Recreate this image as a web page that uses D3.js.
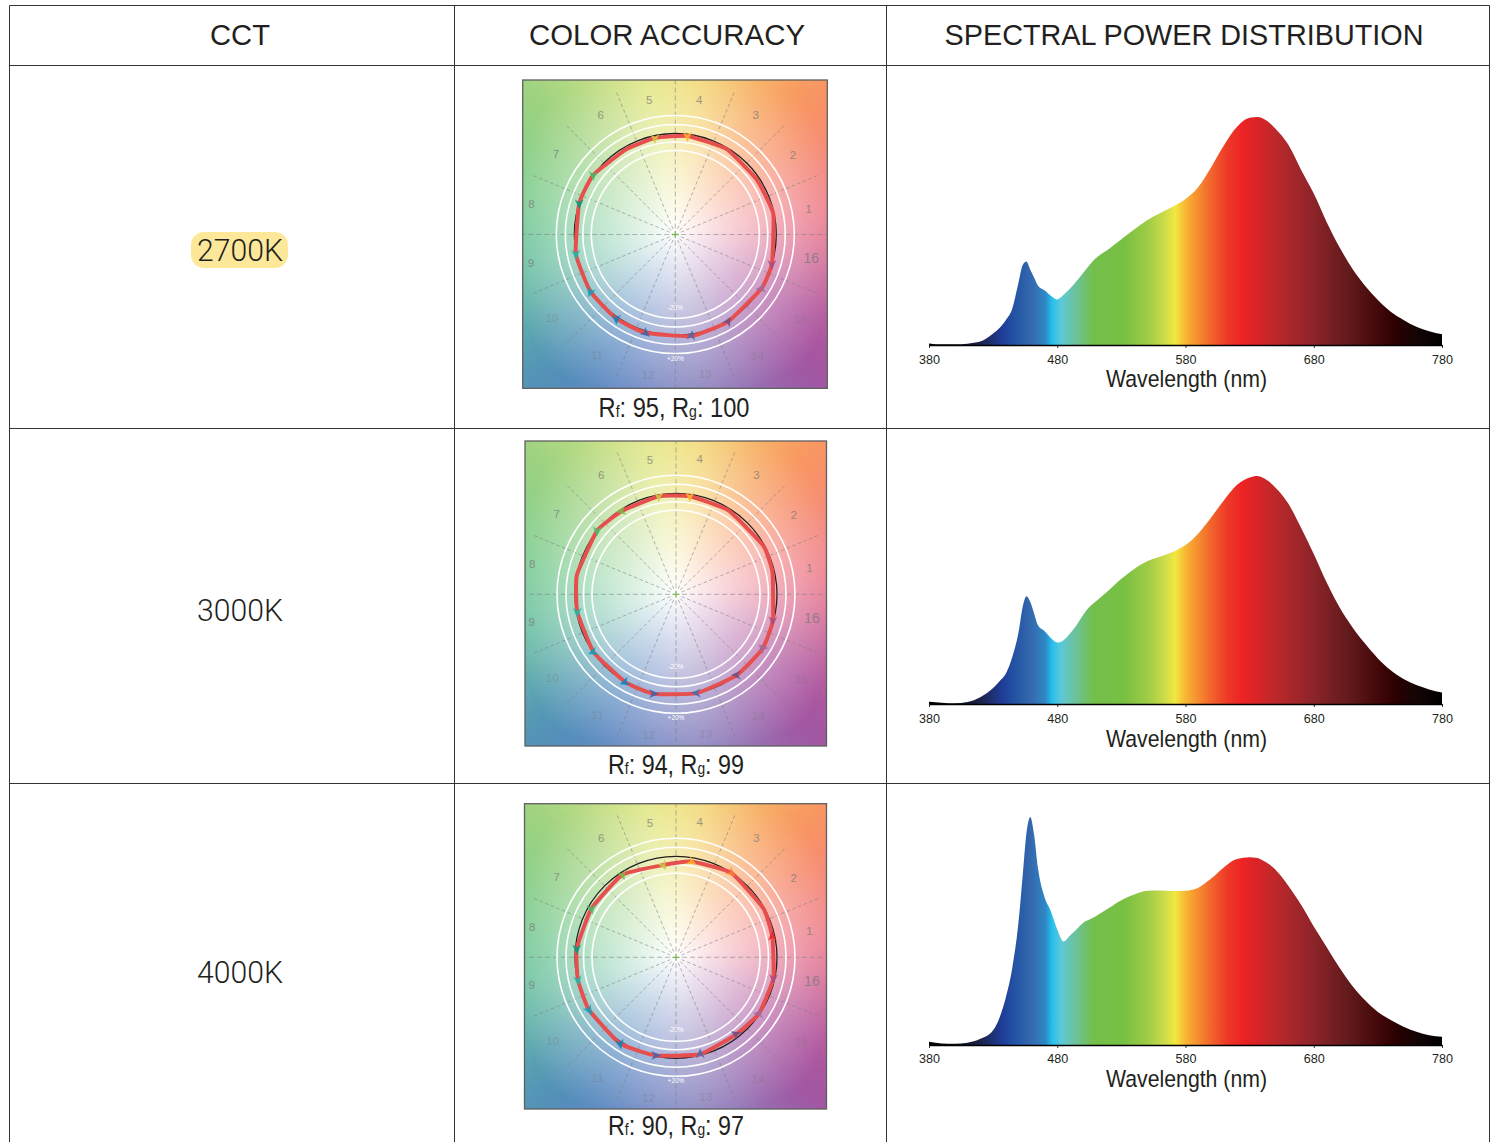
<!DOCTYPE html>
<html>
<head>
<meta charset="utf-8">
<script src="https://cdn.jsdelivr.net/npm/d3@7"></script>
<style>
  html, body { margin: 0; padding: 0; background: #fff; overflow: hidden; }
  svg { display: block; }
  text { font-family: "Liberation Sans", Arial, sans-serif; fill: #231f20; }
</style>
</head>
<body>
<script>
// ---- data ----
const headers = ["CCT", "COLOR ACCURACY", "SPECTRAL POWER DISTRIBUTION"];
const cctLabels = ["2700K", "3000K", "4000K"];
const rfValues = [95, 94, 90];
const rgValues = [100, 99, 97];

const wavelengthTicks = [380, 480, 580, 680, 780];
const wavelengths = [380, 390, 400, 410, 420, 430, 435, 440, 445, 450, 453, 456, 459, 462, 465, 470, 475, 480, 485, 490, 495, 500, 505, 510,
  520, 530, 540, 550, 560, 570, 580, 590, 600, 610, 620, 630, 636, 640,
  650, 660, 670, 680, 690, 700, 710, 720, 730, 740, 750, 760, 770, 780];

const spd2700 = [.7, .3, .3, .6, 1.5, 5, 7.5, 11, 16, 28, 35, 36.6, 33, 29.5, 26, 24, 21.6, 20, 22, 24.8, 28, 31.5, 35, 38,
  42, 46.4, 50.7, 54.7, 57.8, 60.6, 64, 69.3, 78, 87.6, 95.6, 99.7, 100, 99.5,
  95, 88, 77, 66.4, 54, 43, 33.6, 26, 19.7, 14.6, 11, 8, 6, 4.7];
const spd3000 = [1, .6, .3, .9, 3, 7, 10, 13.4, 20.7, 32, 42.5, 47.3, 44.7, 39.6, 34.5, 32, 29, 27, 28, 30.9, 34.5, 38.9, 42.5, 45,
  49.8, 54.9, 59.2, 62.6, 64.6, 66.7, 69.7, 74.8, 81.8, 89.4, 96, 99.3, 100, 99.3,
  95, 88, 77.4, 65.8, 53.4, 42.5, 33.8, 26.5, 20, 14.8, 11, 8.3, 6.4, 5];
const spd4000 = [1.4, .7, .5, 1, 2.7, 6.5, 12, 21, 34, 55, 74, 93, 100, 92, 77.5, 65, 58.7, 50.7, 45.4, 48, 50.7, 53.5, 55, 56.5,
  60, 63.5, 66, 67.7, 67.8, 67.5, 67.7, 69, 73, 78, 81.6, 82.3, 82, 81,
  77, 70, 61.6, 52, 43, 34, 26, 19.6, 14.5, 11, 8, 5.8, 4.3, 3.6];
const spdSeries = [spd2700, spd3000, spd4000];

const spectrumNm = [380, 400, 420, 437, 448, 460, 471, 476, 483, 494, 508, 532, 551, 565, 572, 581, 598, 612, 625, 652, 680, 707, 729, 744, 759, 780];
const spectrumColors = ["#000000", "#0d0d14", "#1c2348", "#1f3c98", "#2456a4", "#3569ae", "#2d8ac7", "#26c0ee", "#5dc8d8", "#6cc29b", "#73bf4b",
  "#78c043", "#a0cc46", "#d2dd4a", "#f2e83f", "#f8b133", "#f36c2c", "#ee3a28", "#ed2224", "#b9282b", "#8c2429", "#621a1c", "#45090b", "#2b0000", "#150505", "#000000"];

// hue bins of the colour vector graphic, 1 to 16
const binNumbers = d3.range(1, 17);
const binColors = ["#e62828", "#e74b4b", "#fb812e", "#ffb529", "#cbca46", "#7eb94c", "#41c06d", "#009c7c",
  "#16bcb0", "#00a4bf", "#0085c3", "#3b62aa", "#4568ae", "#6a4e85", "#9d69a1", "#a74f81"];
const ringLevels = [-20, -10, 10, 20];

const vectorAngle2700 = [12, 34, 59, 83, 102, 120, 144, 162, 191, 214, 235, 253, 279, 301, 328, 343];
const vectorDelta2700 = [-1, -3.2, -1.6, -2, -2.8, -3.2, .4, 0, .4, 1.5, 2, 2, 2, 1, .8, 0];
const vectorAngle3000 = [13, 29, 58, 82, 100, 123, 141, 169, 190, 215, 240, 257, 282, 307, 328, 345];
const vectorDelta3000 = [-2.4, -1.2, -2.4, -2.4, -1.6, -2, .4, 0, -.8, -.4, .4, 1.2, 0, .2, 1.5, -.8];
const vectorAngle4000 = [12, 29, 57, 81, 98, 123, 150, 175, 193, 211, 237, 258, 284, 308, 326, 348];
const vectorDelta4000 = [-3, -1, 0, -4.8, -9.2, -3, -4, -1.6, -.4, .8, 2, -.8, -1.2, -3.8, -.8, -1.6];
const vectorAngles = [vectorAngle2700, vectorAngle3000, vectorAngle4000];
const vectorDeltas = [vectorDelta2700, vectorDelta3000, vectorDelta4000];

// direction each visible chevron points to, degrees counterclockwise from east (null = hidden under the outline)
const arrowDir2700 = [null, null, null, 270, 270, null, 270, 270, 270, 250, 270, 320, 80, 60, 190, 270];
const arrowDir3000 = [null, null, null, 270, 270, 190, 270, null, 270, 200, 200, 0, 180, 180, 135, 270];
const arrowDir4000 = [90, null, 320, 330, 300, 290, 280, 270, 280, 300, 280, 0, 90, 150, 180, 270];
const arrowDirs = [arrowDir2700, arrowDir3000, arrowDir4000];

// colours at the edge of the square background, by angle (counterclockwise from east)
const bgAngles = [0, 22.5, 45, 67.5, 90, 112.5, 135, 157.5, 180, 202.5, 225, 247.5, 270, 292.5, 315, 337.5, 360];
const bgColors = ["#f08ca0", "#f38f8c", "#fa8c52", "#f6c878", "#f3ee92", "#d4e490", "#96cf78", "#8fd295", "#84cfa8",
  "#72bfae", "#4689b4", "#6a8fc9", "#9a9bcc", "#9682bd", "#9f479b", "#c06aa5", "#f08ca0"];

// ---- layout ----
const W = 1495, H = 1142;
const tableX = [9.5, 454.5, 886.5, 1489.5];
const tableY = [5.5, 65.5, 428.5, 783.5];
const headerCx = [240, 667, 1184];
const headerWidth = [60, 276, 479];
const rows = [
  { cctY: 261, sq: [522.7, 80, 304.6, 308.3], c: [675.3, 234.5], rfCx: 674, rfY: 417, rfW: 151, base: 345, tickY: 364, wlY: 387 },
  { cctY: 621, sq: [525, 441, 301.5, 305], c: [676, 594.3], rfCx: 676, rfY: 774, rfW: 136, base: 704, tickY: 723, wlY: 747 },
  { cctY: 983, sq: [524.5, 803.7, 302, 305.3], c: [676, 957.3], rfCx: 676, rfY: 1135, rfW: 136, base: 1045, tickY: 1063, wlY: 1087 }
];
// where the bin numbers sit around the centre: angle, radius
const binLabelAngle = [11, 34, 56, 80, 101, 122, 146, 168, 191, 214, 237, 259, 282, 304, 326, 350];
const binLabelRadius = [136, 142, 144, 137, 137, 141, 144, 147, 147, 149, 144, 143, 143, 147, 151, 138];

const svg = d3.select("body").append("svg").attr("width", W).attr("height", H);
const defs = svg.append("defs");

// spectrum gradient shared by the three areas
const x = d3.scaleLinear().domain([380, 780]).range([929, 1442]);
const grad = defs.append("linearGradient").attr("id", "spectrum")
  .attr("gradientUnits", "userSpaceOnUse")
  .attr("x1", x(380)).attr("x2", x(780)).attr("y1", 0).attr("y2", 0);
grad.selectAll("stop").data(spectrumNm).enter().append("stop")
  .attr("offset", d => (d - 380) / 400)
  .attr("stop-color", (d, i) => spectrumColors[i]);

// background of the colour vector graphic, painted once on a small canvas
const bgHue = d3.scaleLinear().domain(bgAngles).range(bgColors).interpolate(d3.interpolateRgb);
const hueTable = d3.range(360).map(deg => {
  // a little smoothing around the circle so the corners do not crease
  let r = 0, g = 0, b = 0, n = 0;
  for (let a = -14; a <= 14; a += 4) {
    const c = d3.rgb(bgHue((deg + a + 360) % 360));
    r += c.r; g += c.g; b += c.b; n++;
  }
  return [r / n, g / n, b / n];
});
const cv = document.createElement("canvas");
cv.width = cv.height = 150;
const ctx = cv.getContext("2d");
const img = ctx.createImageData(150, 150);
for (let j = 0; j < 150; j++) {
  for (let i = 0; i < 150; i++) {
    const dx = (i - 74.5) / 75, dy = (74.5 - j) / 75;
    let deg = Math.atan2(dy, dx) * 180 / Math.PI;
    if (deg < 0) deg += 360;
    const norm = Math.pow(Math.pow(Math.abs(dx), 4) + Math.pow(Math.abs(dy), 4), .25);
    const t = Math.pow(Math.min(1, norm), .95);
    const c = hueTable[Math.floor(deg) % 360];
    const k = (j * 150 + i) * 4;
    img.data[k] = 255 + (c[0] - 255) * t;
    img.data[k + 1] = 255 + (c[1] - 255) * t;
    img.data[k + 2] = 255 + (c[2] - 255) * t;
    img.data[k + 3] = 255;
  }
}
ctx.putImageData(img, 0, 0);
const bgUrl = cv.toDataURL();

// table grid
svg.selectAll(".vline").data(tableX).enter().append("line")
  .attr("x1", d => d).attr("x2", d => d).attr("y1", tableY[0]).attr("y2", H)
  .attr("stroke", "#333").attr("stroke-width", 1);
svg.selectAll(".hline").data(tableY).enter().append("line")
  .attr("x1", tableX[0]).attr("x2", tableX[3]).attr("y1", d => d).attr("y2", d => d)
  .attr("stroke", "#333").attr("stroke-width", 1);

svg.selectAll(".header").data(headers).enter().append("text")
  .attr("x", (d, i) => headerCx[i]).attr("y", 45)
  .attr("text-anchor", "middle").attr("font-size", 30)
  .attr("textLength", (d, i) => headerWidth[i]).attr("lengthAdjust", "spacingAndGlyphs")
  .text(d => d);

// highlight behind the first CCT
svg.append("rect").attr("x", 191).attr("y", 232).attr("width", 97).attr("height", 36)
  .attr("rx", 13).attr("fill", "#fde89a");

svg.selectAll(".cct").data(cctLabels).enter().append("text")
  .attr("x", 240).attr("y", (d, i) => rows[i].cctY)
  .attr("text-anchor", "middle").attr("font-size", 31)
  .style("font-family", "Roboto, 'Liberation Sans'").style("font-weight", 300)
  .attr("textLength", 86).attr("lengthAdjust", "spacingAndGlyphs")
  .text(d => d);

rows.forEach((row, idx) => {
  drawVector(row, idx);
  drawSpectrum(row, idx);
});

function drawVector(row, idx) {
  const [sx, sy, sw, sh] = row.sq;
  const [cx, cy] = row.c;
  const clipId = "sq" + idx;
  defs.append("clipPath").attr("id", clipId).append("rect")
    .attr("x", sx).attr("y", sy).attr("width", sw).attr("height", sh);

  svg.append("image").attr("href", bgUrl)
    .attr("x", sx).attr("y", sy).attr("width", sw).attr("height", sh)
    .attr("preserveAspectRatio", "none");

  const g = svg.append("g").attr("clip-path", `url(#${clipId})`);
  const plot = g.append("g").attr("transform", `translate(${cx},${cy})`);
  const radius = d3.scaleLinear().domain([-20, 0, 20]).range([84, 101, 119]);
  const pol = (deg, r) => [r * Math.cos(deg * Math.PI / 180), -r * Math.sin(deg * Math.PI / 180)];

  // dashed spokes between the bins
  plot.selectAll(".spoke").data(d3.range(16)).enter().append("line")
    .attr("x1", d => pol(d * 22.5, 6)[0]).attr("y1", d => pol(d * 22.5, 6)[1])
    .attr("x2", d => pol(d * 22.5, 155)[0]).attr("y2", d => pol(d * 22.5, 155)[1])
    .attr("stroke", "#7d7d7d")
    .attr("stroke-width", .8)
    .attr("stroke-dasharray", d => d % 4 === 0 ? "5 3" : "3.5 2.5")
    .attr("opacity", .7);

  // bin numbers
  plot.selectAll(".bin").data(binNumbers).enter().append("text")
    .attr("x", (d, i) => pol(binLabelAngle[i], binLabelRadius[i])[0])
    .attr("y", (d, i) => pol(binLabelAngle[i], binLabelRadius[i])[1])
    .attr("dy", "0.35em")
    .attr("text-anchor", "middle")
    .attr("font-size", d => d === 16 ? 14 : 11.5)
    .style("fill", "#777")
    .attr("opacity", d => d >= 10 && d <= 15 ? .35 : .7)
    .text(d => d);

  plot.selectAll(".ring").data(ringLevels).enter().append("circle")
    .attr("r", d => radius(d)).attr("fill", "none")
    .attr("stroke", "#fff").attr("stroke-width", 1.6);

  plot.append("text").attr("x", 0).attr("y", 75).attr("text-anchor", "middle")
    .attr("font-size", 6.5).style("fill", "#fff").text("-20%");
  plot.append("text").attr("x", 0).attr("y", 126).attr("text-anchor", "middle")
    .attr("font-size", 6.5).style("fill", "#fff").text("+20%");

  plot.append("circle").attr("r", radius(0)).attr("fill", "none")
    .attr("stroke", "#231f20").attr("stroke-width", 1.3);

  // test source outline
  const angles = vectorAngles[idx], deltas = vectorDeltas[idx];
  const pts = angles.map((a, i) => pol(a, radius(deltas[i])));
  plot.append("path")
    .attr("d", d3.line().curve(d3.curveCardinalClosed.tension(0.6))(pts))
    .attr("fill", "none").attr("stroke", "#e74f4f")
    .attr("stroke-width", 4).attr("stroke-linejoin", "round");

  // chevrons
  plot.selectAll(".arrow").data(binNumbers.filter((d, i) => arrowDirs[idx][i] !== null)).enter().append("path")
    .attr("d", "M6,0L-4,-4.5L-1,0L-4,4.5Z")
    .attr("fill", d => binColors[d - 1])
    .attr("opacity", .85)
    .attr("transform", d => {
      const p = pts[d - 1];
      return `translate(${p[0]},${p[1]}) rotate(${-arrowDirs[idx][d - 1]})`;
    });

  // centre cross
  plot.append("path").attr("d", "M-3.5,0H3.5M0,-3.5V3.5")
    .attr("stroke", "#7fb35a").attr("stroke-width", 1.3);

  svg.append("rect").attr("x", sx).attr("y", sy).attr("width", sw).attr("height", sh)
    .attr("fill", "none").attr("stroke", "#5f5f5f").attr("stroke-width", 1.3);

  // Rf / Rg caption, squeezed to the width it has in the picture
  const cap = svg.append("text").attr("text-anchor", "middle").attr("font-size", 27);
  cap.append("tspan").text("R");
  cap.append("tspan").attr("font-size", 16).text("f");
  cap.append("tspan").text(`: ${rfValues[idx]}, R`);
  cap.append("tspan").attr("font-size", 16).text("g");
  cap.append("tspan").text(`: ${rgValues[idx]}`);
  const squeeze = row.rfW / cap.node().getComputedTextLength();
  cap.attr("transform", `translate(${row.rfCx},${row.rfY}) scale(${squeeze},1)`);
}

function drawSpectrum(row, idx) {
  const y = d3.scaleLinear().domain([0, 100]).range([row.base, row.base - 228]);
  const area = d3.area()
    .x((d, i) => x(wavelengths[i]))
    .y0(row.base)
    .y1(d => y(d))
    .curve(d3.curveMonotoneX);

  svg.append("path").datum(spdSeries[idx])
    .attr("d", area).attr("fill", "url(#spectrum)");

  const axis = svg.append("g").attr("transform", `translate(0,${row.base})`)
    .call(d3.axisBottom(x).tickValues(wavelengthTicks).tickFormat(d3.format("d")).tickSize(3).tickSizeOuter(0));
  axis.select(".domain").attr("stroke", "#000").attr("stroke-width", 1.6);
  axis.selectAll(".tick line").attr("stroke", "#000").attr("stroke-width", .8);
  axis.selectAll(".tick text")
    .attr("y", row.tickY - row.base - 9).attr("dy", "0.71em")
    .attr("font-size", 12.5).attr("font-family", "'Liberation Sans', Arial, sans-serif")
    .attr("textLength", 21).attr("lengthAdjust", "spacingAndGlyphs");

  svg.append("text").attr("x", 1186.5).attr("y", row.wlY)
    .attr("text-anchor", "middle").attr("font-size", 24.5)
    .attr("textLength", 161).attr("lengthAdjust", "spacingAndGlyphs")
    .text("Wavelength (nm)");
}
</script>
</body>
</html>
